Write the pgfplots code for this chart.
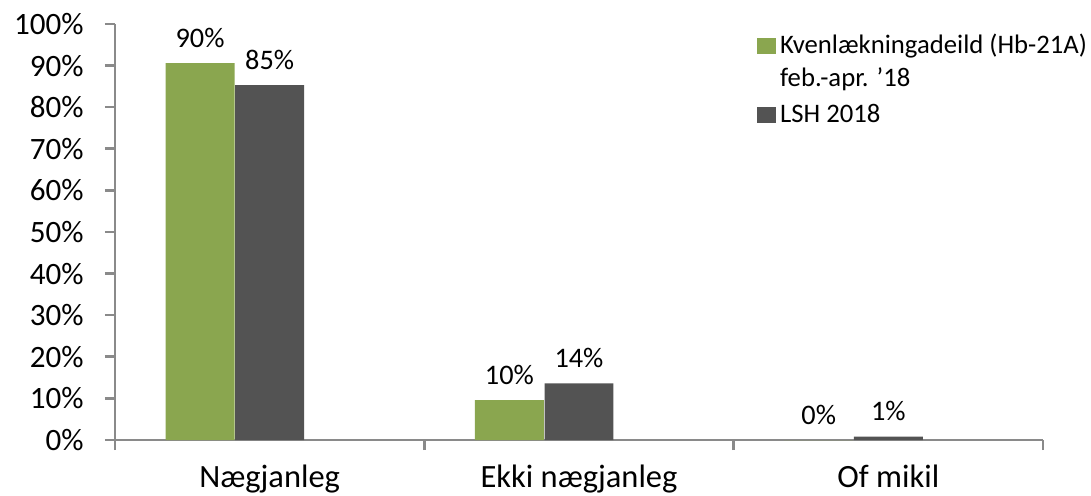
\documentclass[border=0pt]{standalone}
\usepackage{pgfplots}
\pgfplotsset{compat=1.18}
\usepackage{fontspec}
\setmainfont{Carlito}
\definecolor{cgreen}{HTML}{8AA64F}
\definecolor{cgray}{HTML}{535353}
\definecolor{caxis}{HTML}{8A8A8A}
\begin{document}
\begin{tikzpicture}
\path[use as bounding box] (-57.5bp,-28bp) rectangle (488bp,220bp);
\begin{axis}[
  at={(0,0)}, anchor=south west,
  scale only axis, width=464bp, height=208bp,
  xmin=-0.5, xmax=2.5, ymin=0, ymax=100,
  axis lines*=left,
  axis line style={caxis, line width=1.3bp},
  tick style={caxis, line width=1.3bp},
  tick align=outside, major tick length=5bp,
  xtick={-0.5,0.5,1.5,2.5}, xticklabels={},
  extra x ticks={0,1,2},
  extra x tick labels={Nægjanleg,Ekki nægjanleg,Of mikil},
  extra x tick style={major tick length=0pt, tick style={draw=none},
    x tick label style={font=\fontsize{16.3}{19}\selectfont, anchor=base, inner sep=0pt, yshift=-23.5bp}},
  ytick={0,10,...,100},
  yticklabel={\pgfmathprintnumber{\tick}\%},
  y tick label style={font=\fontsize{15.6}{18}\selectfont, anchor=east, inner sep=0pt, xshift=-10.5bp},
  /pgf/number format/assume math mode=true,
  point meta=explicit symbolic,
  nodes near coords,
  nodes near coords style={font=\fontsize{14.2}{17}\selectfont, anchor=base, inner sep=0pt, yshift=8bp, text=black},
  clip=false,
  legend cell align=left,
  legend style={at={(0.691,0.984)}, anchor=north west, draw=none, fill=none, inner sep=0pt,
    font=\fontsize{13.4}{16}\selectfont, row sep=0pt,
    cells={anchor=base west},
    nodes={inner xsep=2.3bp, inner ysep=0pt}},
  legend image code/.code={\fill[#1] (0bp,-0.5bp) rectangle (9.5bp,7.5bp);},
]
\addplot[ybar, bar width=0.223, bar shift=-0.225, fill=cgreen, draw=none,
  every node near coord/.append style={xshift=-34.8bp}]
  coordinates {(0,90.6) [90\%] (1,9.6) [10\%] (2,0) [0\%]};
\addlegendentry{\strut Kvenlækningadeild (Hb-21A)}
\addlegendimage{empty legend}
\addlegendentry{\rule{0pt}{15.2bp}feb.-apr. '18}
\addplot[ybar, bar width=0.223, bar shift=0, fill=cgray, draw=none]
  coordinates {(0,85.3) [85\%] (1,13.6) [14\%] (2,0.8) [1\%]};
\addlegendentry{\rule{0pt}{16.2bp}LSH 2018}
\end{axis}
\end{tikzpicture}
\end{document}
